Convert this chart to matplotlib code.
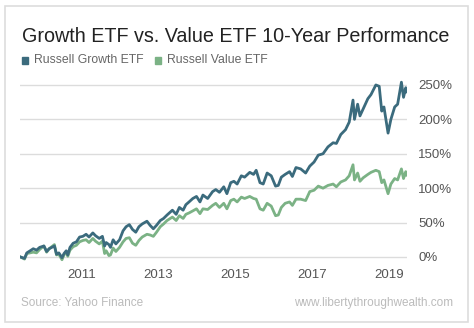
import matplotlib
matplotlib.use("Agg")
import matplotlib.pyplot as plt
import matplotlib.dates as mdates
from matplotlib.patches import Rectangle
import pandas as pd

# data (cumulative return, %)
dates = [
    "2009-06-01", "2009-07-10", "2009-08-01", "2009-09-01", "2009-10-01", "2009-11-01",
    "2009-12-01", "2010-01-10", "2010-02-05", "2010-03-01", "2010-04-20", "2010-05-10",
    "2010-06-01", "2010-07-01", "2010-07-20", "2010-08-10", "2010-08-25", "2010-09-15",
    "2010-10-15", "2010-11-15", "2010-12-15", "2011-01-15", "2011-02-15", "2011-03-15",
    "2011-04-20", "2011-05-15", "2011-06-20", "2011-07-20", "2011-08-10", "2011-08-25",
    "2011-09-20", "2011-10-05", "2011-10-30", "2011-11-25", "2011-12-30", "2012-02-01",
    "2012-03-01", "2012-04-01", "2012-05-01", "2012-06-01", "2012-07-01", "2012-08-01",
    "2012-09-15", "2012-10-15", "2012-11-15", "2012-12-15", "2013-01-20", "2013-02-20",
    "2013-03-25", "2013-05-15", "2013-06-20", "2013-07-20", "2013-08-25", "2013-09-20",
    "2013-10-20", "2013-11-25", "2013-12-30", "2014-02-01", "2014-03-01", "2014-04-15",
    "2014-06-01", "2014-07-01", "2014-08-05", "2014-09-15", "2014-10-15", "2014-11-20",
    "2014-12-20", "2015-01-20", "2015-03-01", "2015-04-01", "2015-05-20", "2015-06-25",
    "2015-07-20", "2015-08-25", "2015-09-25", "2015-11-01", "2015-12-10", "2016-01-20",
    "2016-02-15", "2016-03-15", "2016-04-20", "2016-06-01", "2016-06-28", "2016-08-01",
    "2016-09-15", "2016-11-01", "2016-12-10", "2017-01-20", "2017-03-01", "2017-04-15",
    "2017-06-01", "2017-07-20", "2017-08-20", "2017-10-01", "2017-11-15", "2017-12-20",
    "2018-01-25", "2018-02-08", "2018-03-10", "2018-04-01", "2018-05-01", "2018-06-15",
    "2018-07-15", "2018-08-30", "2018-10-01", "2018-10-25", "2018-11-15", "2018-12-24",
    "2019-01-20", "2019-02-25", "2019-03-25", "2019-04-30", "2019-05-20", "2019-06-10",
    "2019-06-20",
]
growth = [
    0, -2, 6, 9, 12, 10,
    14, 16, 8, 12, 16, 4,
    6, -1, 5, 9, 3, 14,
    20, 22, 29, 30, 33, 29,
    35, 31, 27, 30, 16, 21,
    18, 14, 25, 19, 25, 38,
    44, 47, 40, 36, 44, 48,
    52, 46, 41, 46, 53, 56,
    61, 68, 62, 72, 68, 76,
    80, 85, 88, 80, 90, 85,
    95, 98, 94, 102, 92, 108,
    110, 106, 118, 116, 123, 120,
    126, 108, 106, 122, 118, 103,
    104, 116, 120, 124, 117, 130,
    128, 122, 132, 138, 148, 150,
    160, 166, 165, 178, 185, 196,
    228, 200, 222, 205, 215, 230,
    236, 250, 248, 212, 218, 180,
    200, 218, 222, 254, 232, 246,
    240,
]
value = [
    0, -3, 5, 6, 7, 6,
    11, 16, 7, 12, 18, 3,
    4, -4, 3, 7, 1, 10,
    15, 17, 22, 24, 25, 21,
    27, 23, 19, 23, 5, 9,
    2, 3, 13, 8, 14, 22,
    27, 28, 20, 17, 24, 29,
    33, 32, 30, 36, 44, 48,
    53, 58, 53, 60, 56, 62,
    64, 67, 70, 63, 70, 69,
    75, 78, 72, 78, 70, 82,
    84, 80, 87, 85, 88, 85,
    84, 70, 68, 78, 74, 60,
    61, 72, 78, 80, 75, 84,
    84, 82, 95, 97, 103, 100,
    104, 106, 102, 109, 112, 118,
    134, 112, 122, 110, 115, 120,
    123, 126, 124, 108, 112, 92,
    106, 114, 112, 128, 114, 124,
    119,
]
yticks = [0, 50, 100, 150, 200, 250]
xyears = [2011, 2013, 2015, 2017, 2019]

growth_color = "#3b6b7d"
value_color = "#7bb285"

plt.rcParams["font.family"] = ["Liberation Sans", "DejaVu Sans"]

d = pd.to_datetime(dates)
fig = plt.figure(figsize=(4.74, 3.28), dpi=100)
fig.patch.set_facecolor("white")
fig.patches.append(Rectangle((5 / 474, 6 / 328), 463 / 474, 316 / 328,
                             transform=fig.transFigure, fill=False,
                             edgecolor="#dddddd", linewidth=1.2))

ax = fig.add_axes([20 / 474, 0.1997, 387 / 474, 0.5665])
ax.plot(d, growth, color=growth_color, linewidth=2, label="Russell Growth ETF", zorder=3)
ax.plot(d, value, color=value_color, linewidth=2, label="Russell Value ETF", zorder=2)

ax.set_ylim(-8, 262)
ax.set_xlim(pd.Timestamp("2009-05-28"), pd.Timestamp("2019-06-22"))
ax.set_yticks(yticks)
ax.set_yticklabels([f"{v}%" for v in yticks])
ax.yaxis.tick_right()
ax.set_xticks([pd.Timestamp(f"{y}-01-01") for y in xyears])
ax.xaxis.set_major_formatter(mdates.DateFormatter("%Y"))
ax.tick_params(axis="both", length=0, colors="#555555", labelsize=9.5)
ax.tick_params(axis="y", pad=8)
ax.tick_params(axis="x", pad=5)
for lab in ax.get_yticklabels():
    lab.set_horizontalalignment("left")
ax.grid(axis="y", color="#dcdcdc", linewidth=1)
ax.set_axisbelow(True)
for s in ax.spines.values():
    s.set_visible(False)

fig.text(22 / 474, 1 - 36 / 328, "Growth ETF vs. Value ETF 10-Year Performance",
         fontsize=14.2, color="#222222", va="center", ha="left")

# legend drawn as squares + labels
fig.patches.append(Rectangle((22 / 474, 1 - 64 / 328), 6 / 474, 7 / 328,
                             transform=fig.transFigure, color=growth_color))
fig.text(34 / 474, 1 - 60 / 328, "Russell Growth ETF", fontsize=8.8, color="#666666",
         va="center", ha="left")
fig.patches.append(Rectangle((155 / 474, 1 - 64 / 328), 6 / 474, 7 / 328,
                             transform=fig.transFigure, color=value_color))
fig.text(167 / 474, 1 - 60 / 328, "Russell Value ETF", fontsize=8.8, color="#666666",
         va="center", ha="left")

fig.text(21 / 474, 1 - 303 / 328, "Source: Yahoo Finance", fontsize=8.5,
         color="#bbbbbb", va="center", ha="left")
fig.text(453 / 474, 1 - 303 / 328, "www.libertythroughwealth.com", fontsize=8.5,
         color="#bbbbbb", va="center", ha="right")

fig.savefig("out.png", dpi=100)
